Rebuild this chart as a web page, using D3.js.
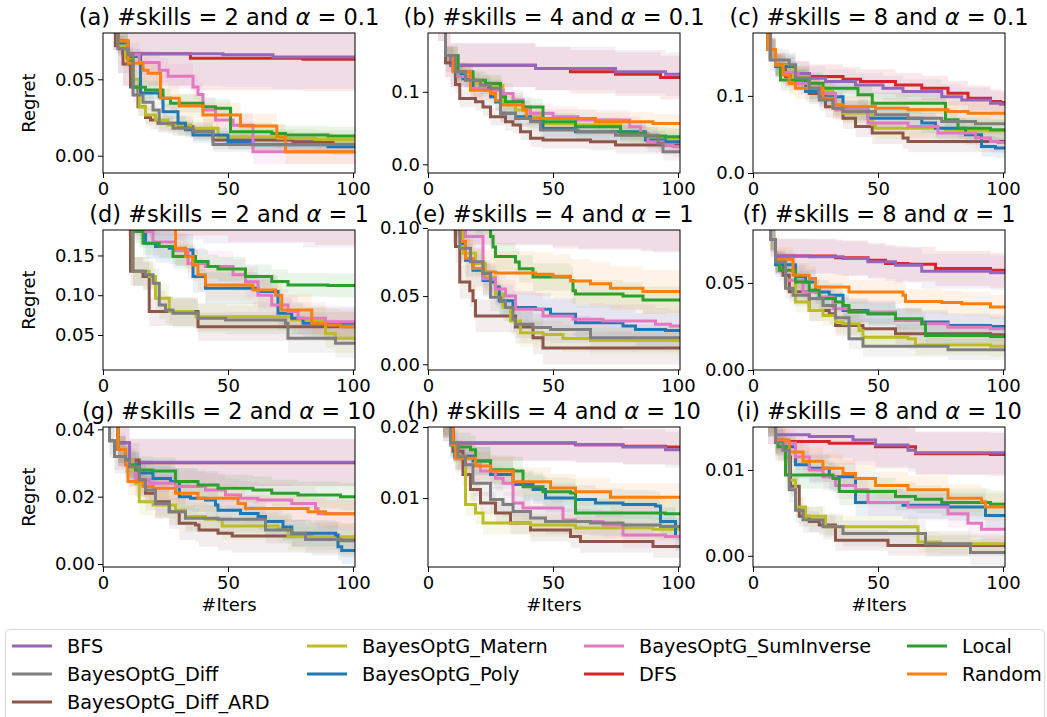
<!DOCTYPE html>
<html>
<head>
<meta charset="utf-8">
<script src="https://cdn.jsdelivr.net/npm/d3@7"></script>
<style>
  body { margin: 0; background: #fff; }
  text { font-family: "DejaVu Sans", sans-serif; fill: #000; }
</style>
</head>
<body>
<div id="chart"></div>
<script>
// methods and their tab10 colours (legend order)
const methods = ["BFS", "BayesOptG_Diff", "BayesOptG_Diff_ARD", "BayesOptG_Matern", "BayesOptG_Poly",
  "BayesOptG_SumInverse", "DFS", "Local", "Random"];
const colors = ["#9467bd", "#7f7f7f", "#8c564b", "#bcbd22", "#1f77b4", "#e377c2", "#d62728", "#2ca02c", "#ff7f0e"];

const panelLabels = ["(a)", "(b)", "(c)", "(d)", "(e)", "(f)", "(g)", "(h)", "(i)"];
const skills = [2, 4, 8];
const alphas = ["0.1", "1", "10"];
const xTicks = [0, 50, 100];
const yDomains = [[-0.0113, 0.0803], [-0.012, 0.181], [0, 0.1815], [0.006, 0.182], [-0.0042, 0.0985],
  [0, 0.0804], [-0.0009, 0.0407], [0.0003, 0.02], [-0.0013, 0.015]];
const yTicks = [[0, 0.05], [0, 0.1], [0, 0.1], [0.05, 0.10, 0.15], [0, 0.05, 0.10], [0, 0.05],
  [0, 0.02, 0.04], [0.01, 0.02], [0, 0.01]];
const yFormats = [".2f", ".1f", ".1f", ".2f", ".2f", ".2f", ".2f", ".2f", ".2f"];

// mean regret per method, step breakpoints [iteration, regret] (same order as methods)
const regretA = [
  [[0,0.15],[4,0.09],[6,0.075],[8,0.0668],[48,0.066],[68,0.0646]],
  [[0,0.15],[4,0.085],[6,0.07],[10,0.066],[12,0.0397],[16,0.035],[20,0.03],[22.5,0.0212],[28,0.018],[36,0.016],[44,0.0074]],
  [[0,0.15],[3,0.09],[5,0.072],[8,0.06],[11,0.045],[14,0.032],[17,0.025],[19,0.0234],[22,0.0212],[30,0.019],[36,0.016],[44,0.0103],[76,0.0092],[92,0.0065]],
  [[0,0.15],[4,0.088],[6,0.072],[9,0.064],[12,0.05],[14.5,0.032],[17,0.0266],[21,0.0234],[26,0.0201],[35,0.018],[46,0.0124],[70,0.0115],[85,0.0107]],
  [[0,0.15],[4,0.09],[6,0.074],[10,0.065],[15,0.041],[22.5,0.0386],[24,0.0288],[30,0.0212],[33,0.017],[36,0.0135],[50,0.0092],[60,0.0072],[90,0.0059]],
  [[0,0.15],[4,0.09],[6,0.075],[10,0.066],[14.5,0.061],[22.5,0.056],[26,0.052],[36,0.045],[38,0.04],[40,0.03],[45,0.0234],[52,0.02],[60,0.0026]],
  [[0,0.15],[4,0.09],[6,0.075],[8,0.0668],[35,0.0638],[80,0.0632]],
  [[0,0.15],[4,0.09],[6,0.075],[10,0.062],[12,0.0448],[17,0.043],[24,0.0376],[27,0.0343],[40,0.032],[45,0.031],[51,0.0157],[67.5,0.0146],[73,0.0135],[90,0.0129]],
  [[0,0.15],[4,0.09],[6,0.075],[10,0.0605],[16,0.056],[18,0.054],[23,0.0376],[30.5,0.0325],[40,0.0266],[55,0.0194],[69.5,0.0124],[73,0.0026]]
];
const regretB = [
  [[0,0.35],[4,0.2],[7,0.15],[9,0.1367],[43,0.132],[75,0.1275],[95,0.124]],
  [[0,0.35],[4,0.2],[7,0.15],[11,0.128],[15,0.116],[21,0.109],[25,0.105],[29,0.0702],[35,0.0633],[41,0.0587],[45,0.0472],[60,0.045],[75,0.04],[92,0.029],[94,0.0174]],
  [[0,0.35],[4,0.2],[7,0.14],[11,0.11],[12.7,0.0908],[19,0.0862],[22,0.079],[25,0.0656],[31,0.0587],[34,0.054],[37,0.045],[41,0.0358],[46,0.0335],[65,0.0312],[75,0.0266]],
  [[0,0.35],[4,0.2],[7,0.15],[12,0.122],[18,0.1115],[25,0.109],[30,0.084],[35,0.0748],[41,0.0656],[46,0.0564],[59,0.054],[77,0.045],[81,0.0404],[89,0.0358]],
  [[0,0.35],[4,0.2],[7,0.15],[10,0.13],[11,0.125],[14,0.118],[18,0.1046],[25,0.093],[27,0.086],[29,0.0702],[35,0.0656],[41,0.061],[46,0.0495],[59,0.045],[87,0.0335],[95,0.031]],
  [[0,0.35],[4,0.2],[7,0.15],[12,0.121],[17,0.1046],[23,0.102],[30,0.0977],[34,0.0885],[38,0.079],[41,0.0702],[50,0.0656],[60,0.061],[80.7,0.0518],[85,0.0427],[88,0.031],[94,0.0266],[98,0.0243]],
  [[0,0.35],[4,0.2],[7,0.15],[9,0.1367],[43,0.132],[57,0.1275],[75,0.1243],[93,0.1197]],
  [[0,0.35],[4,0.2],[7,0.15],[12,0.1275],[18,0.116],[23,0.1115],[29,0.093],[31,0.0862],[38,0.079],[46,0.0587],[59,0.0518],[77,0.0427],[87,0.039],[95,0.038]],
  [[0,0.35],[4,0.2],[7,0.15],[10,0.1275],[17,0.102],[25,0.0977],[27,0.088],[29,0.0817],[38,0.0748],[39.5,0.0633],[67,0.0587],[90,0.0564]]
];
const regretC = [
  [[0,0.35],[4,0.2],[6,0.16],[9,0.14],[17,0.129],[22.5,0.1228],[29,0.1185],[41,0.114],[52,0.11],[60,0.1056],[75.5,0.099],[83.5,0.0948],[95,0.0905],[99,0.0892]],
  [[0,0.35],[5,0.2],[7,0.1466],[14.5,0.14],[17,0.123],[22.5,0.11],[26.5,0.0948],[32,0.084],[36,0.0797],[49,0.0754],[62,0.0711],[75.5,0.0668],[89,0.0638]],
  [[0,0.35],[4,0.2],[6,0.16],[9,0.14],[13,0.125],[22.5,0.103],[29,0.086],[36,0.0711],[41,0.0603],[47.7,0.0517],[60,0.0453],[62,0.041]],
  [[0,0.35],[4,0.2],[6,0.16],[9,0.14],[16,0.125],[22.5,0.1056],[32,0.086],[36,0.0776],[47.7,0.0625],[49,0.058],[77,0.056],[90,0.0547]],
  [[0,0.35],[4,0.2],[6,0.16],[9,0.138],[17,0.1207],[21,0.1056],[26.5,0.099],[36,0.0818],[46,0.0711],[67.5,0.0647],[73,0.058],[85,0.0496],[91.4,0.0345],[97,0.0323]],
  [[0,0.35],[4,0.2],[6,0.16],[9,0.14],[12,0.13],[18,0.116],[26.5,0.103],[33,0.0818],[46,0.0647],[62,0.0603],[74,0.0517],[89,0.0453],[95,0.041],[98,0.0397]],
  [[0,0.35],[4,0.2],[6,0.16],[9,0.14],[13,0.129],[22.5,0.125],[36,0.1215],[43,0.1185],[57,0.114],[67.5,0.11],[78,0.1034],[86,0.097],[95,0.0927],[99,0.0914]],
  [[0,0.35],[4,0.2],[6,0.16],[9,0.14],[11,0.1207],[22.5,0.1164],[28,0.1099],[42,0.1013],[47.7,0.0905],[77,0.069],[82,0.058],[95,0.056]],
  [[0,0.35],[4,0.2],[6,0.16],[9,0.14],[12,0.127],[14.5,0.116],[17,0.11],[28,0.097],[32,0.0884],[36,0.0862],[49,0.084],[62,0.082],[78,0.0797],[86,0.0776]]
];
const regretD = [
  [[0,0.35],[10,0.2],[40,0.195],[80,0.19]],
  [[0,0.35],[8,0.25],[10.6,0.2],[12,0.13],[17,0.1257],[20,0.115],[22.5,0.0878],[25,0.0815],[28,0.0773],[38,0.071],[49,0.069],[73,0.0647],[74,0.0458],[93,0.0395]],
  [[0,0.35],[8,0.25],[10,0.2],[11,0.13],[16,0.1235],[18.5,0.0794],[38,0.0605]],
  [[0,0.35],[8,0.25],[10.6,0.2],[12,0.13],[18.5,0.1235],[21,0.0962],[26.5,0.0794],[36,0.0773],[37.2,0.0731],[75.5,0.069],[89,0.052],[93,0.0458]],
  [[0,0.35],[8,0.25],[12,0.2],[14.5,0.18],[17,0.1655],[21,0.1613],[26.5,0.1592],[29,0.157],[36,0.1235],[41,0.1088],[62,0.1046],[70,0.0773],[75.5,0.071],[80,0.0647]],
  [[0,0.35],[8,0.25],[12,0.2],[17,0.18],[20,0.167],[29,0.157],[34,0.14],[41,0.136],[52,0.1257],[57,0.117],[62,0.1],[67.5,0.0878],[74,0.0794],[78,0.071],[89,0.0668]],
  [[0,0.35],[10,0.205],[50,0.197],[85,0.193]],
  [[0,0.35],[8,0.25],[12,0.2],[13,0.18],[16,0.1655],[22.5,0.1613],[28,0.1487],[37,0.1424],[42,0.136],[46,0.133],[57,0.1235],[67.5,0.1172],[74,0.113],[90,0.1122]],
  [[0,0.35],[8,0.25],[12,0.2],[28.5,0.185],[29,0.159],[33,0.1487],[36,0.138],[38,0.1257],[41,0.113],[60,0.1067],[69,0.1],[71.5,0.0815],[83.5,0.0647],[89,0.0626],[95,0.0605]]
];
const regretE = [
  [[0,0.2],[10,0.108],[60,0.105],[90,0.103]],
  [[0,0.2],[8,0.13],[11,0.105],[12.7,0.0851],[17,0.0752],[22,0.0665],[25,0.0491],[29,0.046],[31,0.0417],[34,0.033],[35,0.0293],[42,0.027],[49,0.0256],[65,0.0194]],
  [[0,0.2],[8,0.13],[10,0.105],[11,0.0864],[12.7,0.0603],[16.7,0.054],[18,0.0466],[19,0.0355],[35,0.0273],[42,0.0194],[46,0.0119]],
  [[0,0.2],[8,0.13],[11,0.105],[14,0.0814],[19,0.074],[23,0.064],[27,0.0516],[30,0.0417],[33,0.0318],[37,0.0231],[46,0.0218],[54,0.0189],[65,0.0174]],
  [[0,0.2],[8,0.13],[11,0.105],[13,0.0888],[15,0.0764],[18,0.069],[22,0.0615],[25,0.0603],[27,0.0566],[28.5,0.0466],[34,0.0417],[43,0.0404],[49,0.0367],[59,0.0305],[78,0.028],[83,0.0256],[95,0.0248]],
  [[0,0.2],[8,0.13],[11,0.105],[15,0.0938],[22,0.0628],[27,0.0553],[31,0.05],[35,0.0404],[46,0.0355],[58,0.033],[70,0.0318],[91,0.0293],[97,0.028]],
  [[0,0.2],[10,0.109],[50,0.106],[85,0.104]],
  [[0,0.2],[10,0.13],[19,0.105],[25,0.0938],[26,0.086],[27,0.079],[35,0.075],[36.5,0.07],[42,0.064],[57,0.0615],[58,0.054],[59,0.0516],[78,0.05],[86,0.0471]],
  [[0,0.2],[8,0.13],[11,0.105],[13,0.09],[15,0.0777],[18,0.0702],[22,0.0677],[27,0.067],[43,0.066],[50,0.0645],[57,0.061],[65,0.059],[73,0.0558],[86,0.0533]]
];
const regretF = [
  [[0,0.2],[4,0.1],[7,0.075],[9,0.0654],[22.5,0.065],[36,0.064],[46,0.0621],[57,0.0602],[67.5,0.0567],[95,0.0558]],
  [[0,0.2],[4,0.1],[7,0.075],[9,0.062],[13,0.0469],[16,0.0429],[22.5,0.041],[28,0.0371],[33,0.03],[38.4,0.0179],[44,0.0137],[78,0.0117]],
  [[0,0.2],[4,0.1],[7,0.075],[9,0.062],[12,0.0544],[14.5,0.045],[22.5,0.0342],[30.5,0.0323],[33,0.0256],[44,0.0237],[57,0.0208],[95,0.0202]],
  [[0,0.2],[4,0.1],[7,0.075],[9,0.062],[13,0.0515],[17,0.039],[22.5,0.0342],[28,0.0313],[33,0.0275],[36,0.0265],[42.4,0.0227],[44,0.0188],[62,0.0179],[65,0.0144],[95,0.0137]],
  [[0,0.2],[4,0.1],[7,0.075],[9,0.0604],[17,0.0535],[21,0.0506],[25,0.0448],[30.5,0.0429],[36,0.0342],[46,0.0323],[57,0.0285],[67.5,0.0275],[78,0.0256],[95,0.025]],
  [[0,0.2],[4,0.1],[7,0.075],[9,0.0623],[13,0.0515],[20,0.0448],[26.5,0.0419],[32,0.0352],[38.4,0.0333],[57,0.0285],[67.5,0.0265],[78,0.0246],[95,0.0237]],
  [[0,0.2],[4,0.1],[7,0.075],[9,0.0654],[33,0.0644],[46,0.063],[53,0.0612],[62,0.0608],[73,0.0583],[95,0.0573]],
  [[0,0.2],[4,0.1],[7,0.075],[9,0.0623],[10.6,0.0573],[17,0.0506],[22.5,0.0458],[26.5,0.041],[33,0.039],[36,0.037],[38.4,0.0333],[46,0.0323],[57,0.0294],[67.5,0.0265],[69,0.0198],[95,0.0192]],
  [[0,0.2],[4,0.1],[7,0.075],[9,0.0635],[16,0.0544],[22.5,0.0525],[25,0.0477],[38.4,0.0448],[60,0.0429],[61,0.0394],[75.5,0.0387],[83.5,0.038],[95,0.0362]]
];
const regretG = [
  [[0,0.08],[3,0.05],[6,0.036],[10.6,0.0302]],
  [[0,0.08],[2.6,0.0366],[4.6,0.0319],[9,0.0309],[10.6,0.0289],[14.5,0.025],[17,0.022],[21,0.018],[26.5,0.0155],[33,0.0136],[46,0.0133],[65,0.0101],[75.5,0.0091],[81,0.0073],[95,0.0069]],
  [[0,0.08],[2.6,0.0366],[4.6,0.0319],[9,0.0309],[14.5,0.025],[17,0.021],[21,0.0185],[26.5,0.0155],[30.5,0.0121],[37,0.0116],[38.4,0.0101],[46,0.0091],[51.7,0.0083],[83.5,0.0076],[95,0.0071]],
  [[0,0.08],[3,0.045],[6,0.034],[9,0.031],[12,0.0279],[13,0.024],[14.5,0.0185],[20,0.0175],[29,0.016],[33,0.0141],[41,0.0133],[47.7,0.0113],[70,0.0106],[74,0.0081]],
  [[0,0.08],[3,0.045],[6,0.034],[9,0.031],[10.6,0.0294],[14.5,0.027],[20,0.0254],[27,0.0245],[30.5,0.02],[35,0.0195],[41,0.019],[45,0.0175],[46,0.016],[55,0.015],[62,0.0141],[65,0.0126],[72,0.011],[75.5,0.0091],[93,0.0086],[94,0.0051],[95.5,0.004]],
  [[0,0.08],[3,0.045],[6,0.034],[9,0.031],[11.3,0.0291],[13,0.025],[18.5,0.024],[29,0.023],[41,0.022],[49,0.0205],[55,0.0195],[62,0.019],[75.5,0.018],[85,0.0165],[86,0.0149]],
  [[0,0.08],[3,0.05],[6,0.036],[10.6,0.0301]],
  [[0,0.08],[3,0.045],[6,0.034],[9,0.031],[10.6,0.0294],[13,0.0279],[20,0.0276],[29,0.0245],[38,0.0235],[46,0.0225],[60,0.022],[67.5,0.021],[78,0.0205],[95,0.02]],
  [[0,0.08],[3,0.045],[6,0.034],[9,0.0294],[10,0.0245],[16,0.023],[20,0.0225],[29,0.021],[38,0.0195],[54,0.018],[57,0.0165],[82,0.0155],[89,0.0149]]
];
const regretH = [
  [[0,0.04],[3,0.024],[6,0.0205],[10,0.01775],[59,0.0175],[78,0.0172],[95,0.0168]],
  [[0,0.04],[3,0.024],[6,0.0205],[9,0.0178],[12,0.0158],[15,0.0147],[18,0.0121],[25,0.0098],[30,0.0091],[34,0.0081],[41,0.0072],[47,0.0067],[65,0.0065],[78,0.0062],[93,0.006]],
  [[0,0.04],[3,0.024],[6,0.0205],[10,0.0166],[14,0.0133],[17,0.0112],[21,0.0093],[27,0.0079],[33,0.0065],[41,0.0055],[57,0.0046],[61,0.0039],[90,0.0032]],
  [[0,0.04],[3,0.024],[6,0.0205],[9,0.0175],[11,0.0156],[15,0.0091],[19,0.0079],[22,0.0065],[41,0.0062],[59,0.0058],[90,0.0056]],
  [[0,0.04],[3,0.024],[6,0.0205],[9,0.0175],[10.7,0.0159],[18,0.0152],[25,0.0133],[34,0.0119],[42,0.0112],[47,0.01],[59,0.0098],[67,0.0093],[78,0.0091],[91,0.0089],[93,0.0067],[99,0.0046]],
  [[0,0.04],[3,0.024],[6,0.0205],[9,0.0175],[11.3,0.0159],[15,0.0147],[21,0.0138],[27,0.0128],[30,0.0121],[34,0.0093],[38,0.0086],[54,0.0069],[59,0.0067],[70,0.0062],[78,0.0048],[95,0.0046]],
  [[0,0.04],[3,0.024],[6,0.0205],[10,0.01775],[59,0.0175],[78,0.0173],[95,0.0172]],
  [[0,0.04],[3,0.024],[6,0.0205],[10,0.0172],[17,0.0168],[19,0.0152],[25,0.014],[34,0.0138],[38,0.0116],[46,0.0109],[57,0.0107],[59,0.0079],[95,0.0078]],
  [[0,0.04],[3,0.024],[6,0.0205],[10,0.0175],[11,0.0156],[19,0.0145],[25,0.0138],[34,0.0123],[49,0.0114],[59,0.0109],[73,0.0101]]
];
const regretI = [
  [[0,0.03],[3,0.018],[6,0.0155],[9,0.0141],[22.5,0.0139],[40,0.0135],[49,0.0129],[62,0.0123],[65,0.012]],
  [[0,0.03],[3,0.018],[6,0.0155],[9,0.0132],[12,0.0123],[14.5,0.0077],[17,0.0053],[20,0.0042],[28,0.0034],[36,0.0026],[69,0.0014],[87,0.0004]],
  [[0,0.03],[3,0.018],[6,0.0155],[9,0.0135],[13,0.0115],[15,0.0081],[18.5,0.0046],[22.5,0.004],[26.5,0.0036],[33,0.0018],[54,0.0012]],
  [[0,0.03],[3,0.018],[6,0.0155],[9,0.0135],[13,0.0116],[14.5,0.0088],[17,0.0057],[21,0.0046],[29,0.0034],[66,0.0016],[75,0.0014]],
  [[0,0.03],[3,0.018],[6,0.0155],[9,0.0135],[12,0.0127],[17,0.0106],[22.5,0.0102],[30.5,0.0092],[41,0.0062],[60,0.0059],[78,0.0057],[93,0.0047]],
  [[0,0.03],[3,0.018],[6,0.0155],[9,0.0135],[13,0.0131],[17,0.0115],[22.5,0.01],[28,0.0092],[33,0.0082],[41,0.0077],[46,0.0062],[62,0.0057],[78,0.0049],[86,0.0038],[91.4,0.0031]],
  [[0,0.03],[3,0.018],[6,0.0155],[9,0.0135],[13,0.0133],[30.5,0.0131],[49,0.0127],[65,0.0119],[95,0.0118]],
  [[0,0.03],[3,0.018],[6,0.0155],[9,0.0135],[10,0.0127],[13,0.0094],[32,0.009],[34.5,0.0075],[57,0.0069],[65,0.0066],[75.5,0.0062],[95,0.006]],
  [[0,0.03],[3,0.018],[6,0.0155],[9,0.0135],[14.5,0.0121],[20,0.011],[28,0.0102],[36,0.0096],[41,0.009],[49,0.0082],[62,0.0077],[78,0.0067],[91.4,0.0063],[93,0.0057]]
];

// std of regret per method (band half-width), same order as methods
const spreadA = [0.021, 0.005, 0.006, 0.006, 0.005, 0.008, 0.021, 0.006, 0.008];
const spreadB = [0.03, 0.012, 0.012, 0.012, 0.012, 0.014, 0.03, 0.012, 0.013];
const spreadC = [0.016, 0.014, 0.014, 0.014, 0.013, 0.014, 0.016, 0.014, 0.014];
const spreadD = [0.03, 0.018, 0.018, 0.018, 0.02, 0.02, 0.03, 0.015, 0.02];
const spreadE = [0.021, 0.01, 0.012, 0.01, 0.012, 0.012, 0.021, 0.01, 0.016];
const spreadF = [0.01, 0.006, 0.006, 0.006, 0.007, 0.007, 0.01, 0.006, 0.007];
const spreadG = [0.007, 0.004, 0.005, 0.004, 0.004, 0.005, 0.007, 0.004, 0.004];
const spreadH = [0.0025, 0.0018, 0.0016, 0.0016, 0.002, 0.0018, 0.0025, 0.002, 0.002];
const spreadI = [0.0025, 0.0015, 0.0012, 0.0012, 0.0016, 0.0016, 0.0025, 0.0016, 0.0016];

const regrets = [regretA, regretB, regretC, regretD, regretE, regretF, regretG, regretH, regretI];
const spreads = [spreadA, spreadB, spreadC, spreadD, spreadE, spreadF, spreadG, spreadH, spreadI];

// layout
const width = 1047, height = 717;
const colLeft = [103, 428, 753], rowTop = [33, 230, 427];
const pw = 252, ph = 140;
const xMax = 100.8;
const drawOrder = [6, 0, 2, 3, 4, 5, 7, 8, 1];

const svg = d3.select("#chart").append("svg")
  .attr("width", width).attr("height", height);

regrets.forEach((series, p) => {
  const row = Math.floor(p / 3), col = p % 3;
  const g = svg.append("g").attr("transform", `translate(${colLeft[col]},${rowTop[row]})`);

  const x = d3.scaleLinear().domain([0, xMax]).range([0, pw]);
  const y = d3.scaleLinear().domain(yDomains[p]).range([ph, 0]);

  const clipId = "clip" + p;
  g.append("clipPath").attr("id", clipId)
    .append("rect").attr("width", pw).attr("height", ph);

  const plot = g.append("g").attr("clip-path", `url(#${clipId})`);
  const withEnd = (d) => d.concat([[xMax, d[d.length - 1][1]]]);

  // shaded std bands
  drawOrder.forEach((m) => {
    const s = spreads[p][m];
    const band = d3.area().curve(d3.curveStepAfter)
      .x((d) => x(d[0]))
      .y0((d) => y(d[1] - s))
      .y1((d) => y(d[1] + s));
    plot.append("path")
      .attr("d", band(withEnd(series[m])))
      .attr("fill", colors[m])
      .attr("fill-opacity", 0.1);
  });

  // mean lines
  const line = d3.line().curve(d3.curveStepAfter)
    .x((d) => x(d[0])).y((d) => y(d[1]));
  drawOrder.forEach((m) => {
    plot.append("path")
      .attr("d", line(withEnd(series[m])))
      .attr("fill", "none")
      .attr("stroke", colors[m])
      .attr("stroke-width", 3);
  });

  // axes
  const xAxis = g.append("g").attr("transform", `translate(0,${ph})`)
    .call(d3.axisBottom(x).tickValues(xTicks).tickFormat(d3.format("d")).tickSize(5).tickPadding(4));
  const yAxis = g.append("g")
    .call(d3.axisLeft(y).tickValues(yTicks[p]).tickFormat(d3.format(yFormats[p])).tickSize(5).tickPadding(3));
  [xAxis, yAxis].forEach((a) => {
    a.select(".domain").remove();
    a.selectAll(".tick line").attr("stroke", "#000").attr("stroke-width", 1);
    a.selectAll(".tick text").attr("font-size", 18).attr("font-family", "DejaVu Sans").attr("fill", "#000");
  });

  g.append("rect").attr("width", pw).attr("height", ph)
    .attr("fill", "none").attr("stroke", "#000").attr("stroke-width", 1);

  // title
  const title = g.append("text").attr("x", pw / 2).attr("y", -8)
    .attr("text-anchor", "middle").attr("font-size", 22.5);
  title.append("tspan").text(`${panelLabels[p]} #skills = ${skills[col]} and `);
  title.append("tspan").attr("font-style", "italic").text("α");
  title.append("tspan").text(` = ${alphas[row]}`);

  if (col === 0) {
    g.append("text").attr("transform", `translate(-68,${ph / 2}) rotate(-90)`)
      .attr("text-anchor", "middle").attr("font-size", 18).text("Regret");
  }
  if (row === 2) {
    g.append("text").attr("x", pw / 2).attr("y", 184)
      .attr("text-anchor", "middle").attr("font-size", 18).text("#Iters");
  }
});

// legend
const legendCols = [[0, 1, 2], [3, 4], [5, 6], [7, 8]];
const legendX = [12, 307, 584, 907];
const legendY = [646, 674, 702];
const legend = svg.append("g");
legend.append("rect").attr("x", 5.5).attr("y", 629.5).attr("width", 1039).attr("height", 110)
  .attr("rx", 4).attr("fill", "#fff").attr("stroke", "#d9d9d9").attr("stroke-width", 1);
legendCols.forEach((items, c) => {
  items.forEach((m, r) => {
    legend.append("line")
      .attr("x1", legendX[c]).attr("x2", legendX[c] + 40)
      .attr("y1", legendY[r]).attr("y2", legendY[r])
      .attr("stroke", colors[m]).attr("stroke-width", 3);
    legend.append("text")
      .attr("x", legendX[c] + 55).attr("y", legendY[r]).attr("dy", "0.35em")
      .attr("font-size", 19.3).text(methods[m]);
  });
});
</script>
</body>
</html>
